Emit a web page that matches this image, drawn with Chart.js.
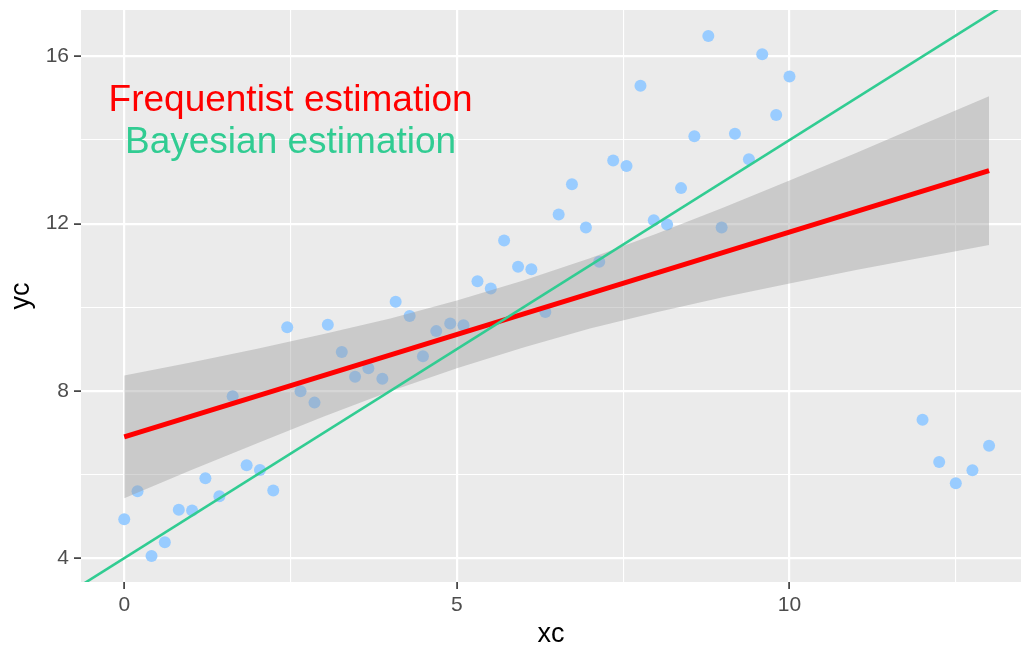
<!DOCTYPE html>
<html>
<head>
<meta charset="utf-8">
<script src="https://cdn.jsdelivr.net/npm/chart.js@4/dist/chart.umd.min.js"></script>
<style>
  html, body { margin: 0; padding: 0; background: #ffffff; }
  #wrap { width: 1021px; height: 649px; }
</style>
</head>
<body>
<div id="wrap"><canvas id="chart" width="1021" height="649"></canvas></div>
<script>
// observed points
const xc = [0, 0.20, 0.41, 0.61, 0.82, 1.02, 1.22, 1.43, 1.63, 1.84,
            2.04, 2.24, 2.45, 2.65, 2.86, 3.06, 3.27, 3.47, 3.67, 3.88,
            4.08, 4.29, 4.49, 4.69, 4.90, 5.10, 5.31, 5.51, 5.71, 5.92,
            6.12, 6.33, 6.53, 6.73, 6.94, 7.14, 7.35, 7.55, 7.76, 7.96,
            8.16, 8.37, 8.57, 8.78, 8.98, 9.18, 9.39, 9.59, 9.80, 10.00,
            12.00, 12.25, 12.50, 12.75, 13.00];
const yc = [4.93, 5.60, 4.05, 4.38, 5.16, 5.14, 5.91, 5.48, 7.87, 6.22,
            6.11, 5.62, 9.52, 7.99, 7.72, 9.58, 8.93, 8.34, 8.54, 8.29,
            10.13, 9.79, 8.83, 9.43, 9.61, 9.57, 10.62, 10.45, 11.60, 10.97,
            10.91, 9.89, 12.22, 12.94, 11.91, 11.09, 13.51, 13.38, 15.30, 12.08,
            11.98, 12.85, 14.09, 16.49, 11.91, 14.15, 13.54, 16.05, 14.60, 15.52,
            7.31, 6.30, 5.79, 6.10, 6.69];

// frequentist fit and its confidence band
const fitX = [0, 13];
const fitY = [6.90, 13.27];
const bandX = [0, 1, 2, 3, 4, 5, 6, 7, 8, 9, 10, 11, 12, 13];
const bandLow = [5.43, 6.10, 6.75, 7.39, 7.99, 8.54, 9.04, 9.49, 9.88, 10.24, 10.57, 10.89, 11.19, 11.49];
const bandHigh = [8.37, 8.68, 9.01, 9.36, 9.73, 10.16, 10.64, 11.17, 11.76, 12.38, 13.03, 13.69, 14.37, 15.05];

// bayesian line
const bayesIntercept = [4];
const bayesSlope = [1];

// text labels
const labelText = ['Frequentist estimation', 'Bayesian estimation'];
const labelX = [2.5, 2.5];
const labelY = [15, 14];

// axes
const xRange = [-0.65, 13.48];
const yRange = [3.43, 17.11];
const xGrid = [0, 2.5, 5, 7.5, 10, 12.5];
const xMajor = [0, 5, 10];
const yGrid = [4, 6, 8, 10, 12, 14, 16];
const yMajor = [4, 8, 12, 16];

const RED = '#ff0000';
const GREEN = '#31cc92';
const FONT = '"Liberation Sans", Arial, sans-serif';

const pts = xc.map((x, i) => ({ x: x, y: yc[i] }));
const fitPts = fitX.map((x, i) => ({ x: x, y: fitY[i] }));
const lowPts = bandX.map((x, i) => ({ x: x, y: bandLow[i] }));
const highPts = bandX.map((x, i) => ({ x: x, y: bandHigh[i] }));
const bayesPts = xRange.map(x => ({ x: x, y: bayesIntercept[0] + bayesSlope[0] * x }));

const panelBg = {
    id: 'panelBg',
    beforeDraw(chart) {
        const { ctx, chartArea: a } = chart;
        ctx.save();
        ctx.fillStyle = '#ebebeb';
        ctx.fillRect(a.left, a.top, a.right - a.left, a.bottom - a.top);
        ctx.restore();
    }
};

const textLabels = {
    id: 'textLabels',
    afterDatasetsDraw(chart) {
        const { ctx, scales } = chart;
        const size = 37;
        const colors = [RED, GREEN];
        ctx.save();
        ctx.font = size + 'px ' + FONT;
        ctx.textAlign = 'center';
        ctx.textBaseline = 'alphabetic';
        labelText.forEach((t, i) => {
            ctx.fillStyle = colors[i];
            const px = scales.x.getPixelForValue(labelX[i]);
            const py = scales.y.getPixelForValue(labelY[i]) + size * 0.358;
            ctx.fillText(t, px, py);
        });
        ctx.restore();
    }
};

function gridOpts(major) {
    return {
        color: '#ffffff',
        lineWidth: (c) => major.includes(c.tick.value) ? 2.2 : 1.1,
        tickColor: (c) => major.includes(c.tick.value) ? '#333333' : 'rgba(0,0,0,0)',
        tickWidth: 1.6,
        tickLength: 7,
        drawTicks: true
    };
}

// no extra room for edge labels, the panel runs to the canvas edge
function fixX(s) {
    s.height = 67;
    s.paddingLeft = 0;
    s.paddingRight = 0;
}
function fixY(s) {
    s.width = 81;
    s.paddingTop = 0;
    s.paddingBottom = 0;
}

new Chart(document.getElementById('chart'), {
    type: 'scatter',
    data: {
        datasets: [
            {
                label: 'bayes',
                data: bayesPts,
                showLine: true,
                borderColor: GREEN,
                borderWidth: 2.6,
                pointRadius: 0,
                order: 0
            },
            {
                label: 'fit',
                data: fitPts,
                showLine: true,
                borderColor: RED,
                borderWidth: 5,
                pointRadius: 0,
                order: 1
            },
            {
                label: 'upper',
                data: highPts,
                showLine: true,
                borderWidth: 0,
                borderColor: 'rgba(0,0,0,0)',
                pointRadius: 0,
                fill: '+1',
                backgroundColor: 'rgba(153,153,153,0.4)',
                order: 2
            },
            {
                label: 'lower',
                data: lowPts,
                showLine: true,
                borderWidth: 0,
                borderColor: 'rgba(0,0,0,0)',
                pointRadius: 0,
                fill: false,
                order: 2
            },
            {
                label: 'points',
                data: pts,
                pointRadius: 6,
                pointBackgroundColor: '#99ccff',
                pointBorderWidth: 0,
                order: 3
            }
        ]
    },
    options: {
        responsive: false,
        animation: false,
        layout: { autoPadding: false, padding: { top: 10, right: 0, left: 0, bottom: 0 } },
        plugins: {
            legend: { display: false },
            tooltip: { enabled: false }
        },
        scales: {
            x: {
                type: 'linear',
                min: xRange[0],
                max: xRange[1],
                afterBuildTicks: (s) => { s.ticks = xGrid.map(v => ({ value: v })); },
                afterFit: fixX,
                border: { display: false },
                grid: gridOpts(xMajor),
                ticks: {
                    color: '#4d4d4d',
                    font: { family: FONT, size: 21 },
                    padding: 4,
                    maxRotation: 0,
                    autoSkip: false,
                    callback: (v) => xMajor.includes(v) ? String(v) : ''
                },
                title: {
                    display: true,
                    text: 'xc',
                    color: '#000000',
                    font: { family: FONT, size: 27 },
                    padding: { top: 0, bottom: -2 }
                }
            },
            y: {
                type: 'linear',
                min: yRange[0],
                max: yRange[1],
                afterBuildTicks: (s) => { s.ticks = yGrid.map(v => ({ value: v })); },
                afterFit: fixY,
                border: { display: false },
                grid: gridOpts(yMajor),
                ticks: {
                    color: '#4d4d4d',
                    font: { family: FONT, size: 21 },
                    padding: 5,
                    autoSkip: false,
                    callback: (v) => yMajor.includes(v) ? String(v) : ''
                },
                title: {
                    display: true,
                    text: 'yc',
                    color: '#000000',
                    font: { family: FONT, size: 27 },
                    padding: { top: 5, bottom: 0 }
                }
            }
        }
    },
    plugins: [panelBg, textLabels]
});
</script>
</body>
</html>
